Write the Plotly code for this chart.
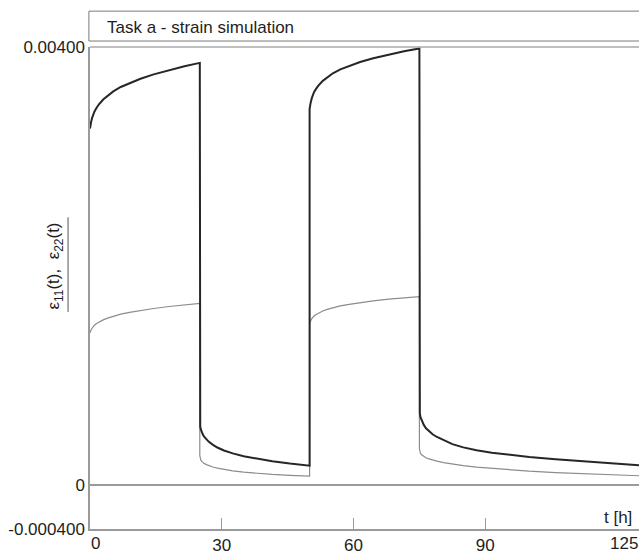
import plotly.graph_objects as go

# Time axis [h]: load 0-25 h, unload 25-50 h, reload 50-75 h, unload 75-125 h
t_h = [0, 0.1, 0.25, 0.5, 0.75, 1, 1.5, 2, 3, 4, 5.3, 7, 9, 11.5, 14.5, 18, 21.5, 25,
       25, 25.1, 25.25, 25.5, 25.75, 26, 26.5, 27, 28, 29, 30.5, 32.5, 35, 38, 41.5, 45.5, 50,
       50, 50.1, 50.25, 50.5, 50.75, 51, 51.5, 52, 53, 54, 55.3, 57, 59, 61.5, 64.5, 68, 71.5, 75,
       75, 75.1, 75.25, 75.5, 75.75, 76, 76.5, 77, 78, 79, 80.5, 82.5, 85, 88, 91.5, 95.5, 100,
       106, 113, 119, 125]

# Strain component eps_11(t)
eps11 = [0.003255, 0.003290, 0.003315, 0.003355, 0.003385, 0.003410, 0.003445, 0.003475,
         0.003520, 0.003555, 0.003595, 0.003635, 0.003670, 0.003710, 0.003750, 0.003790,
         0.003825, 0.003855,
         0.000600, 0.000535, 0.000507, 0.000478, 0.000458, 0.000442, 0.000418, 0.000398,
         0.000368, 0.000344, 0.000317, 0.000290, 0.000264, 0.000240, 0.000218, 0.000197,
         0.000178,
         0.003435, 0.003470, 0.003494, 0.003533, 0.003562, 0.003587, 0.003620, 0.003648,
         0.003691, 0.003723, 0.003760, 0.003796, 0.003827, 0.003863, 0.003898, 0.003933,
         0.003962, 0.003987,
         0.000720, 0.000655, 0.000620, 0.000590, 0.000568, 0.000550, 0.000520, 0.000500,
         0.000465, 0.000440, 0.000410, 0.000375, 0.000345, 0.000318, 0.000297, 0.000277,
         0.000258, 0.000237, 0.000215, 0.000198, 0.000182]

# Strain component eps_22(t)
eps22 = [0.001390, 0.001406, 0.001417, 0.001435, 0.001449, 0.001460, 0.001476, 0.001489,
         0.001509, 0.001525, 0.001543, 0.001561, 0.001577, 0.001595, 0.001613, 0.001631,
         0.001647, 0.001660,
         0.000270, 0.000241, 0.000228, 0.000215, 0.000206, 0.000199, 0.000188, 0.000179,
         0.000166, 0.000155, 0.000143, 0.000131, 0.000119, 0.000108, 0.000098, 0.000089,
         0.000082,
         0.001476, 0.001492, 0.001502, 0.001520, 0.001533, 0.001544, 0.001559, 0.001571,
         0.001590, 0.001605, 0.001621, 0.001637, 0.001651, 0.001667, 0.001683, 0.001698,
         0.001712, 0.001722,
         0.000333, 0.000305, 0.000291, 0.000278, 0.000269, 0.000262, 0.000251, 0.000243,
         0.000230, 0.000219, 0.000206, 0.000192, 0.000178, 0.000165, 0.000153, 0.000141,
         0.000128, 0.000115, 0.000102, 0.000093, 0.000086]

x_ticks = [30, 60, 90]
x_ticktext = ["30", "60", "90"]
y_ticks = [-0.0004, 0, 0.004]
y_ticktext = ["-0.000400", "0", "0.00400"]

FONT = "Arial, Liberation Sans, sans-serif"
AXIS_GRAY = "#9a9a9a"
TXT = "#1e1e1e"

fig = go.Figure()
fig.add_trace(go.Scatter(x=t_h, y=eps22, mode="lines",
                         line=dict(color="#8c8c8c", width=1.2), hoverinfo="skip"))
fig.add_trace(go.Scatter(x=t_h, y=eps11, mode="lines",
                         line=dict(color="#262626", width=2), hoverinfo="skip"))

fig.update_layout(
    width=639, height=555,
    margin=dict(l=90, r=0, t=47, b=24),
    paper_bgcolor="white", plot_bgcolor="white",
    showlegend=False,
    font=dict(family=FONT, size=17, color=TXT),
    xaxis=dict(range=[0, 125], showgrid=False, zeroline=False,
               showline=True, linecolor=AXIS_GRAY, linewidth=1.5,
               ticks="inside", ticklen=11, tickwidth=1, tickcolor=AXIS_GRAY,
               tickvals=x_ticks, ticktext=x_ticktext,
               tickfont=dict(size=17, color=TXT)),
    yaxis=dict(range=[-0.0004, 0.004], showgrid=False,
               zeroline=True, zerolinecolor=AXIS_GRAY, zerolinewidth=1.5,
               showline=True, linecolor=AXIS_GRAY, linewidth=1.5,
               ticks="", tickvals=y_ticks, ticktext=y_ticktext,
               tickfont=dict(size=17, color=TXT)),
)

# Title box above the plot and the plot's top border
fig.add_shape(type="rect", xref="paper", yref="paper",
              x0=-0.002, x1=1.02, y0=1.0124, y1=1.0744,
              line=dict(color="#7a7a7a", width=1), fillcolor="white", layer="above")
fig.add_shape(type="line", xref="paper", yref="paper",
              x0=0, x1=1.02, y0=1.0, y1=1.0,
              line=dict(color="#a8a8a8", width=1.5))

# Underline of the y-axis label
fig.add_shape(type="line", xref="paper", yref="paper",
              x0=-0.040, x1=-0.040, y0=0.4504, y1=0.6467,
              line=dict(color="#555555", width=1))

fig.add_annotation(text="Task a - strain simulation", xref="paper", yref="paper",
                   x=0.0273, y=1.0413, xanchor="left", yanchor="middle",
                   showarrow=False, font=dict(size=17, color=TXT))
fig.add_annotation(text="ε<sub>11</sub>(t),  ε<sub>22</sub>(t)", xref="paper", yref="paper",
                   x=-0.063, y=0.5455, xanchor="center", yanchor="middle",
                   textangle=-90, showarrow=False, font=dict(size=17, color=TXT))
fig.add_annotation(text="t [h]", xref="paper", yref="paper",
                   x=1, y=0.0248, xanchor="right", yanchor="middle", xshift=-5,
                   showarrow=False, font=dict(size=17, color=TXT))
fig.add_annotation(text="0", xref="x", yref="paper",
                   x=0, y=-0.031, xanchor="left", yanchor="middle", xshift=-1,
                   showarrow=False, font=dict(size=17, color=TXT))
fig.add_annotation(text="125", xref="paper", yref="paper",
                   x=1, y=-0.031, xanchor="right", yanchor="middle", xshift=1,
                   showarrow=False, font=dict(size=17, color=TXT))

fig.write_html("out.html")
